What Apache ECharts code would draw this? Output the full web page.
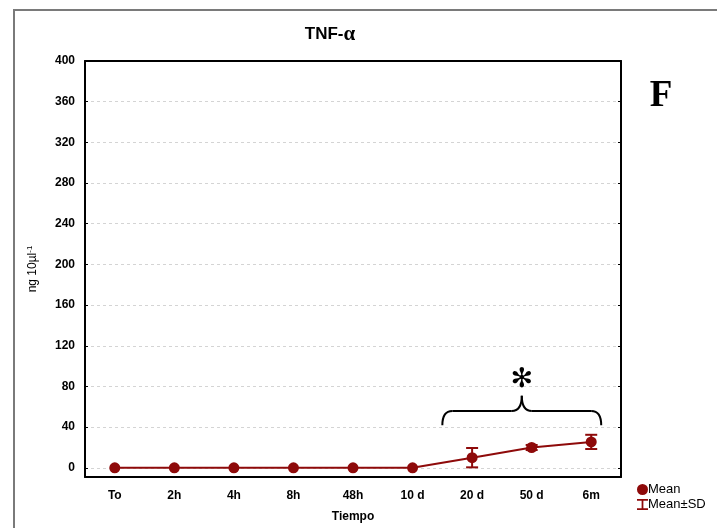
<!DOCTYPE html>
<html>
<head>
<meta charset="utf-8">
<script src="https://cdn.jsdelivr.net/npm/echarts@6/dist/echarts.min.js"></script>
<style>
  html, body { margin: 0; padding: 0; background: #fff; }
  #chart { width: 717px; height: 528px; }
</style>
</head>
<body>
<div id="chart"></div>
<script>
// Sampling times
const categories = ['To', '2h', '4h', '8h', '48h', '10 d', '20 d', '50 d', '6m'];
// TNF-alpha mean concentration (ng 10 µl^-1) and standard deviation
const meanValues = [0, 0, 0, 0, 0, 0, 10, 20, 25.5];
const sdValues = [0, 0, 0, 0, 0, 0, 9.5, 2.5, 7];
// Y axis tick values
const yTicks = [0, 40, 80, 120, 160, 200, 240, 280, 320, 360, 400];

const RED = '#8e0a0a';
const FONT = 'Liberation Sans, Arial, sans-serif';

const errorData = categories.map((c, i) => [i, meanValues[i], sdValues[i]]);

const chart = echarts.init(document.getElementById('chart'), null, { renderer: 'canvas' });

const option = {
  animation: false,
  backgroundColor: '#fff',
  title: {
    text: '{a|TNF-}{b|α}',
    left: 325,
    textAlign: 'center',
    top: 19,
    textStyle: {
      rich: {
        a: { fontFamily: FONT, fontWeight: 'bold', fontSize: 17, color: '#000' },
        b: { fontFamily: 'Liberation Serif, Times New Roman, serif', fontWeight: 'bold', fontSize: 21, color: '#000' }
      }
    }
  },
  grid: { left: 85, top: 61, right: 96, bottom: 51, containLabel: false, outerBoundsMode: 'none' },
  legend: {
    orient: 'vertical',
    left: 632,
    top: 478,
    itemWidth: 11,
    itemHeight: 11,
    itemGap: 2,
    textStyle: { fontFamily: FONT, fontSize: 13, color: '#000', padding: [0, 0, 0, -5] },
    data: [
      { name: 'Mean', icon: 'circle' },
      { name: 'Mean±SD', icon: 'path://M0,0H10V1.6H5.8V8.4H10V10H0V8.4H4.2V1.6H0Z' }
    ]
  },
  xAxis: [
    {
      type: 'category',
      data: categories,
      boundaryGap: true,
      name: 'Tiempo',
      nameLocation: 'middle',
      nameGap: 34,
      nameTextStyle: { fontFamily: FONT, fontWeight: 'bold', fontSize: 12, color: '#000' },
      axisLine: { onZero: false, lineStyle: { color: '#000', width: 2 } },
      axisTick: { inside: true, length: 4, alignWithLabel: true, lineStyle: { color: '#000' } },
      axisLabel: { fontFamily: FONT, fontWeight: 'bold', fontSize: 12, color: '#000', margin: 13 },
      splitLine: { show: false }
    },
    {
      type: 'category',
      data: categories,
      position: 'top',
      boundaryGap: true,
      axisLine: { onZero: false, lineStyle: { color: '#000', width: 2 } },
      axisTick: { inside: true, length: 4, alignWithLabel: true, lineStyle: { color: '#000' } },
      axisLabel: { show: false },
      splitLine: { show: false }
    }
  ],
  yAxis: [
    {
      type: 'value',
      min: -9,
      max: 400,
      name: '{n|ng 10µl}{s|-1}',
      nameLocation: 'middle',
      nameGap: 45,
      nameRotate: 90,
      nameTextStyle: {
        rich: {
          n: { fontFamily: FONT, fontSize: 12, color: '#000' },
          s: { fontFamily: FONT, fontSize: 8, color: '#000', verticalAlign: 'top', padding: [0, 0, 6, 0] }
        }
      },
      axisLine: { show: true, onZero: false, lineStyle: { color: '#000', width: 2 } },
      axisTick: { show: true, inside: true, length: 3, customValues: yTicks, lineStyle: { color: '#000' } },
      axisLabel: { fontFamily: FONT, fontWeight: 'bold', fontSize: 12, color: '#000', margin: 10, customValues: yTicks },
      splitLine: { show: true, lineStyle: { color: '#d4d4d4', type: [3, 3], width: 1 } }
    },
    {
      type: 'value',
      min: -9,
      max: 400,
      position: 'right',
      axisLine: { show: true, onZero: false, lineStyle: { color: '#000', width: 2 } },
      axisTick: { show: true, inside: true, length: 3, customValues: yTicks, lineStyle: { color: '#000' } },
      axisLabel: { show: false },
      splitLine: { show: false }
    }
  ],
  series: [
    {
      name: 'Mean±SD',
      type: 'custom',
      itemStyle: { color: RED },
      z: 3,
      renderItem: function (params, api) {
        const x = api.value(0);
        const m = api.value(1);
        const sd = api.value(2);
        if (!sd) return null;
        const top = api.coord([x, m + sd]);
        const bot = api.coord([x, m - sd]);
        const hw = 6;
        const style = { stroke: RED, lineWidth: 2 };
        return {
          type: 'group',
          children: [
            { type: 'line', shape: { x1: top[0], y1: top[1], x2: bot[0], y2: bot[1] }, style: style },
            { type: 'line', shape: { x1: top[0] - hw, y1: top[1], x2: top[0] + hw, y2: top[1] }, style: style },
            { type: 'line', shape: { x1: bot[0] - hw, y1: bot[1], x2: bot[0] + hw, y2: bot[1] }, style: style }
          ]
        };
      },
      encode: { x: 0, y: [1, 2] },
      data: errorData
    },
    {
      name: 'Mean',
      type: 'line',
      data: meanValues,
      symbol: 'circle',
      symbolSize: 11,
      z: 4,
      lineStyle: { color: RED, width: 2 },
      itemStyle: { color: RED }
    }
  ]
};

chart.setOption(option);

// Significance brace over the last three time points, placed from axis coordinates
function addAnnotations() {
  const px = i => chart.convertToPixel({ xAxisIndex: 0 }, categories[i]);
  const py = v => chart.convertToPixel({ yAxisIndex: 0 }, v);
  const x0 = (px(5) + px(6)) / 2;
  const x1 = px(8) + 10;
  const xm = (x0 + x1) / 2;
  const yEnd = py(42);
  const yBar = py(56);
  const yTip = py(71);
  const r = 10;
  const braceStyle = { fill: null, stroke: '#000', lineWidth: 2 };
  const curve = (ax, ay, cx, cy, bx, by) => ({
    type: 'bezierCurve',
    shape: { x1: ax, y1: ay, x2: bx, y2: by, cpx1: cx, cpy1: cy },
    style: braceStyle,
    silent: true
  });
  const seg = (ax, ay, bx, by) => ({
    type: 'line',
    shape: { x1: ax, y1: ay, x2: bx, y2: by },
    style: braceStyle,
    silent: true
  });

  chart.setOption({
    graphic: [
      {
        type: 'rect',
        shape: { x: 14, y: 10, width: 720, height: 540 },
        style: { fill: null, stroke: '#7a7a7a', lineWidth: 2 },
        silent: true
      },
      curve(x0, yEnd, x0, yBar, x0 + r, yBar),
      seg(x0 + r, yBar, xm - r, yBar),
      curve(xm - r, yBar, xm, yBar, xm, yTip),
      curve(xm, yTip, xm, yBar, xm + r, yBar),
      seg(xm + r, yBar, x1 - r, yBar),
      curve(x1 - r, yBar, x1, yBar, x1, yEnd),
      {
        type: 'text',
        x: xm,
        y: py(86),
        style: {
          text: '✻',
          font: 'bold 27px DejaVu Sans',
          fill: '#000',
          align: 'center',
          verticalAlign: 'middle'
        },
        silent: true
      },
      {
        type: 'text',
        x: 661,
        y: 96,
        style: {
          text: 'F',
          font: 'bold 37px Liberation Serif, Times New Roman, serif',
          fill: '#000',
          align: 'center',
          verticalAlign: 'middle'
        },
        silent: true
      }
    ]
  });
}
addAnnotations();
</script>
</body>
</html>
